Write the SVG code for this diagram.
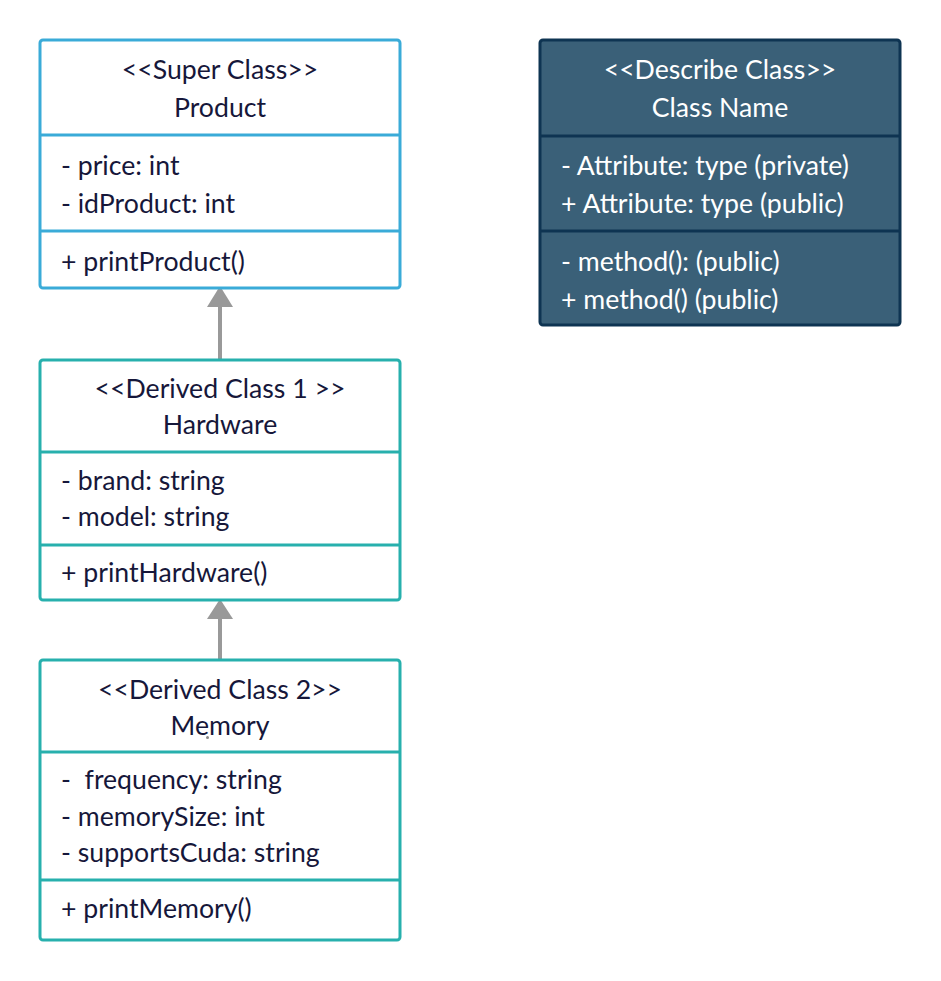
<svg xmlns="http://www.w3.org/2000/svg" width="941" height="981" viewBox="0 0 941 981">
<style>
.box{fill:#ffffff;stroke-width:3}
.blue{stroke:#3aabd8}
.teal{stroke:#27b0ad}
.dark{fill:#3a6078;stroke:#0e3452;stroke-width:3}
text{font-family:Lato,"Open Sans","Liberation Sans",sans-serif;font-size:26.67px;fill:#16173a}
.c{text-anchor:middle}
.w{fill:#ffffff}
.conn{stroke:#999999;stroke-width:4;fill:none}
</style>
<rect width="941" height="981" fill="#ffffff"/>
<g id="connectors">
<line class="conn" x1="220" y1="360" x2="220" y2="306" />
<path d="M220,286 L233,307 L207,307 Z" fill="#999999"/>
<line class="conn" x1="220" y1="660" x2="220" y2="618" />
<path d="M220,599 L233,619 L207,619 Z" fill="#999999"/>
</g>
<g id="product">
<rect class="box blue" x="40" y="40" width="360" height="248" rx="3"/>
<line class="blue" stroke-width="3" x1="40" y1="135" x2="400" y2="135"/>
<line class="blue" stroke-width="3" x1="40" y1="231" x2="400" y2="231"/>
<text class="c" x="220" y="79">&lt;&lt;Super Class&gt;&gt;</text>
<text class="c" x="220" y="117">Product</text>
<text x="61" y="175">- price: int</text>
<text x="61" y="213">- idProduct: int</text>
<text x="61" y="271">+ printProduct()</text>
</g>
<g id="describe">
<rect class="dark" x="540" y="40" width="360" height="285" rx="3"/>
<line stroke="#0e3452" stroke-width="3" x1="540" y1="136" x2="900" y2="136"/>
<line stroke="#0e3452" stroke-width="3" x1="540" y1="231" x2="900" y2="231"/>
<text class="c w" x="720" y="79">&lt;&lt;Describe Class&gt;&gt;</text>
<text class="c w" x="720" y="117">Class Name</text>
<text class="w" x="561" y="175">- Attribute: type (private)</text>
<text class="w" x="561" y="213">+ Attribute: type (public)</text>
<text class="w" x="561" y="271">- method(): (public)</text>
<text class="w" x="561" y="309">+ method() (public)</text>
</g>
<g id="hardware">
<rect class="box teal" x="40" y="360" width="360" height="240" rx="3"/>
<line class="teal" stroke-width="3" x1="40" y1="452" x2="400" y2="452"/>
<line class="teal" stroke-width="3" x1="40" y1="545" x2="400" y2="545"/>
<text class="c" x="220" y="398">&lt;&lt;Derived Class 1 &gt;&gt;</text>
<text class="c" x="220" y="434">Hardware</text>
<text x="61" y="490">- brand: string</text>
<text x="61" y="526">- model: string</text>
<text x="61" y="582">+ printHardware()</text>
</g>
<g id="memory">
<rect class="box teal" x="40" y="660" width="360" height="280" rx="3"/>
<line class="teal" stroke-width="3" x1="40" y1="752" x2="400" y2="752"/>
<line class="teal" stroke-width="3" x1="40" y1="880" x2="400" y2="880"/>
<text class="c" x="220" y="699">&lt;&lt;Derived Class 2&gt;&gt;</text>
<text class="c" x="220" y="735">Memory</text>
<circle cx="207.5" cy="737.5" r="1.5" fill="#888888"/>
<text x="61" y="789" xml:space="preserve">-  frequency: string</text>
<text x="61" y="826">- memorySize: int</text>
<text x="61" y="862">- supportsCuda: string</text>
<text x="61" y="918">+ printMemory()</text>
</g>
</svg>
